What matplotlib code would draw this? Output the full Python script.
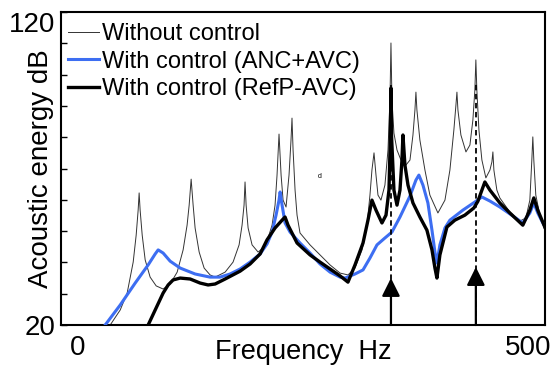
import numpy as np
import matplotlib
matplotlib.use("Agg")
from matplotlib import pyplot as plt

plt.rcParams["font.family"] = ["Liberation Sans", "DejaVu Sans"]

# frequency (Hz) / acoustic energy (dB)
f_wo = [36.6, 47.7, 55.4, 62.1, 65.4, 67.6, 68.7, 69.8, 72.1, 75.4, 80.9, 87.6, 95.3, 103.1,
        110.9, 117.5, 121.9, 124.2, 126.4, 128.6, 130.8, 135.3, 140.8, 147.4, 153.0, 164.1,
        172.9, 179.6, 182.9, 185.1, 186.2, 187.4, 189.6, 194.0, 200.7, 206.2, 211.7, 216.2,
        219.5, 221.7, 223.9, 226.2, 228.4, 231.7, 235.0, 237.2, 238.3, 239.5, 241.7, 243.9,
        247.2, 258.3, 269.4, 280.5, 291.6, 300.4, 308.2, 316.0, 321.5, 324.8, 327.0, 329.3,
        331.5, 333.7, 337.0, 341.4, 344.8, 347.0, 348.1, 349.2, 351.4, 354.8, 359.2, 364.7,
        369.2, 372.5, 374.7, 375.8, 376.9, 380.2, 385.8, 391.3, 400.2, 408.0, 413.5, 417.9,
        420.2, 421.3, 422.4, 425.7, 431.3, 435.7, 439.0, 441.2, 442.3, 443.4, 445.7, 449.0,
        453.4, 457.9, 460.1, 461.2, 462.3, 465.6, 468.9, 480.0, 491.1, 497.8, 502.2, 504.4,
        505.5, 506.6, 508.8, 513.3, 518.8]
db_wo = [20.0, 24.8, 30.2, 40.1, 48.7, 56.7, 62.2, 56.7, 48.7, 40.8, 35.3, 32.5, 31.5, 33.1,
         36.9, 44.0, 51.9, 58.3, 66.6, 58.3, 51.0, 43.3, 38.2, 36.0, 35.3, 36.9,
         40.1, 45.6, 51.9, 58.3, 65.7, 58.3, 51.0, 45.6, 43.3, 44.6, 47.8, 51.9,
         58.3, 67.9, 81.0, 67.9, 59.9, 57.7, 67.9, 79.1, 86.1, 75.9, 63.1, 55.1,
         49.4, 45.6, 42.4, 39.2, 36.6, 36.0, 38.2, 44.0, 51.9, 61.5, 69.5, 75.0,
         67.9, 61.5, 59.9, 64.7, 75.9, 91.9, 110.1, 91.9, 81.3, 75.9, 72.7, 71.1,
         72.7, 80.7, 88.7, 94.4, 88.7, 79.1, 69.5, 61.5, 55.8, 59.9, 69.5, 82.3,
         90.3, 94.4, 88.7, 80.7, 75.3, 77.5, 85.5, 95.1, 104.7, 95.1, 82.3, 72.7,
         67.0, 69.5, 72.1, 75.3, 69.5, 63.1, 60.6, 56.1, 53.2, 54.2, 59.9, 72.7,
         80.1, 72.7, 61.5, 55.1, 50.3]

f_anc = [31.0, 47.7, 64.3, 78.7, 86.5, 89.8, 95.3, 103.1, 114.2, 130.8, 147.4, 158.5, 169.6,
         180.7, 191.8, 202.9, 210.6, 216.2, 220.6, 223.9, 225.1, 227.3, 230.6, 236.1, 247.2,
         258.3, 269.4, 280.5, 291.6, 297.2, 308.2, 317.1, 324.8, 332.6, 341.4, 349.2, 358.1,
         369.2, 375.8, 379.1, 383.6, 389.1, 393.6, 396.9, 399.1, 402.4, 408.0, 413.5, 427.9,
         441.2, 449.0, 457.9, 468.9, 480.0, 494.4, 502.2, 506.6, 511.0, 516.6, 518.8]
db_anc = [20.0, 26.4, 33.4, 39.2, 42.7, 44.0, 43.0, 40.4, 38.2, 36.3, 35.3, 35.3, 36.3,
          37.9, 40.1, 42.7, 45.9, 49.7, 55.1, 59.9, 62.5, 58.3, 52.6, 49.7, 46.2,
          43.0, 39.5, 36.9, 35.3, 35.0, 36.3, 37.6, 41.4, 45.6, 47.8, 49.7, 54.5,
          61.2, 66.3, 67.9, 64.7, 59.0, 50.3, 43.3, 39.8, 45.6, 51.0, 53.5, 56.7,
          59.3, 60.9, 59.6, 57.7, 55.5, 52.6, 55.8, 59.0, 55.8, 52.6, 51.6]

f_refp = [78.7, 86.5, 95.3, 100.9, 106.4, 114.2, 125.3, 136.4, 145.2, 153.0, 164.1, 180.7,
          191.8, 202.9, 210.6, 219.5, 227.3, 230.6, 233.9, 243.9, 258.3, 269.4, 280.5, 291.6,
          300.4, 308.2, 317.1, 322.6, 327.0, 331.5, 338.1, 342.6, 345.9, 347.4, 348.1, 348.8,
          351.4, 354.8, 358.1, 360.3, 361.4, 363.6, 367.0, 372.5, 380.2, 388.0, 393.6, 396.9,
          399.1, 402.4, 410.2, 419.0, 430.1, 440.1, 444.5, 449.0, 452.3,
          457.9, 468.9, 480.0, 494.4, 502.2, 506.6, 511.0, 518.8]
db_refp = [20.0, 24.8, 30.2, 32.8, 34.4, 35.0, 34.7, 33.4, 32.8, 33.1, 34.7, 37.2,
           39.5, 42.7, 47.2, 51.0, 53.5, 54.5, 51.9, 46.2, 42.4, 40.1, 37.9, 35.7,
           33.7, 39.2, 46.2, 53.5, 59.9, 56.7, 52.6, 55.1, 63.1, 80.0, 95.7, 80.0,
           63.1, 58.3, 63.1, 72.7, 80.7, 71.1, 64.7, 59.0, 54.5, 50.3, 44.0, 38.2,
           35.0, 42.4, 51.3, 53.5, 55.1, 57.4, 59.5, 63.1, 65.7,
           63.1, 59.0, 55.8, 51.9, 56.7, 60.6, 56.7, 51.3]

# marked frequencies (dashed line + arrow) and arrow tip levels
mark_f = [348.1, 442.3]
mark_top = [96.7, 97.3]
arrow_tip = [35.0, 38.5]

fig = plt.figure(figsize=(5.52, 3.67), dpi=100)
ax = fig.add_axes([0.1105, 0.1144, 0.8768, 0.8529])

ax.plot(f_wo, db_wo, color="#333333", lw=0.7, zorder=2, label="Without control")
ax.plot(f_anc, db_anc, color="#3d6ef2", lw=2.2, zorder=3, label="With control (ANC+AVC)")
ax.plot(f_refp, db_refp, color="black", lw=2.4, zorder=4, label="With control (RefP-AVC)")

for fm, top, tip in zip(mark_f, mark_top, arrow_tip):
    ax.plot([fm, fm], [20, top], color="black", lw=1.3, ls=(0, (3, 2)), zorder=5)
    ax.annotate("", xy=(fm, tip), xytext=(fm, 20),
                arrowprops=dict(arrowstyle="-|>,head_length=0.5,head_width=0.25",
                                mutation_scale=22, lw=1.6, color="black",
                                shrinkA=0, shrinkB=0), zorder=6)

ax.text(269.4, 67.3, "d", fontsize=5, ha="center", va="center")

ax.set_xlim(-18, 519)
ax.set_ylim(20, 120)
ax.set_xticks([0, 500])
ax.set_yticks(np.arange(20, 121, 10))
ax.set_yticklabels(["20", "", "", "", "", "", "", "", "", "", "120"])
ax.tick_params(axis="y", direction="in", length=4, width=1, labelsize=20, pad=4)
ax.tick_params(axis="x", length=0, labelsize=20, pad=7)
ax.get_yticklabels()[-1].set_va("top")
for spine in ax.spines.values():
    spine.set_linewidth(1.5)

ax.set_xlabel("Frequency  Hz", fontsize=19.5)
ax.xaxis.set_label_coords(0.5, -0.086)
ax.xaxis.label.set_va("center")
ax.set_ylabel("Acoustic energy dB", fontsize=20)
ax.yaxis.set_label_coords(-0.041, 0.5)
ax.yaxis.label.set_va("center")

ax.legend(loc="upper left", bbox_to_anchor=(0.0145, 0.965), frameon=False, fontsize=17,
          handlelength=1.3, handletextpad=0.15, labelspacing=0.24, borderpad=0,
          borderaxespad=0)

fig.savefig("out.png", dpi=100)
